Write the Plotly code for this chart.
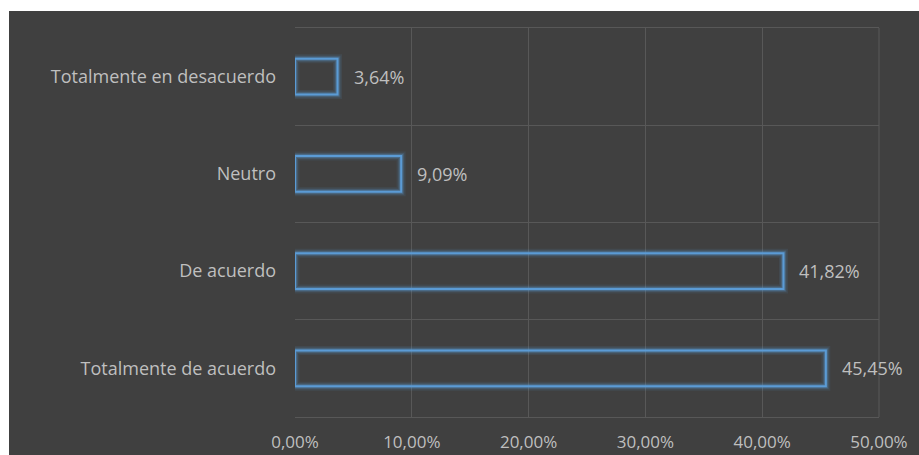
import plotly.graph_objects as go

# Survey responses (share of respondents)
categories = [
    "Totalmente en desacuerdo",
    "Neutro",
    "De acuerdo",
    "Totalmente de acuerdo",
]
shares = [0.0364, 0.0909, 0.4182, 0.4545]
x_ticks = [0.0, 0.1, 0.2, 0.3, 0.4, 0.5]

W, H = 919, 455
PLOT_L, PLOT_R, PLOT_T, PLOT_B = 295, 879, 28, 417
BG_L, BG_T = 9, 11
BG = "#404040"
GRID = "#585858"
BLUE = "91,155,213"
TEXT = "#bfbfbf"
FONT = "Open Sans"
FS = 18

fig = go.Figure()

# glow layers underneath the outlined bar
for lw, alpha in [(9, 0.10), (6, 0.18), (4, 0.30), (2, 1.0)]:
    fig.add_trace(go.Bar(
        x=shares,
        y=categories,
        orientation="h",
        width=0.37,
        marker=dict(color="rgba(0,0,0,0)",
                    line=dict(color=f"rgba({BLUE},{alpha})", width=lw)),
        hoverinfo="skip" if alpha < 1 else None,
        showlegend=False,
    ))

# value labels to the right of each bar
for v, c in zip(shares, categories):
    fig.add_annotation(
        x=v, y=c, text=f"{v*100:.2f}%".replace(".", ","),
        xanchor="left", yanchor="middle", xshift=14, showarrow=False,
        font=dict(family=FONT, size=FS, color=TEXT),
    )

pw, ph = PLOT_R - PLOT_L, PLOT_B - PLOT_T
# dark chart area (white strip along top and left edges)
fig.add_shape(
    type="rect", xref="paper", yref="paper", layer="below",
    x0=(BG_L - PLOT_L) / pw, x1=(W - PLOT_L) / pw + 0.1,
    y0=(PLOT_B - H) / ph - 0.1, y1=(PLOT_B - BG_T) / ph,
    fillcolor=BG, line=dict(width=0),
)
# right edge of the plot area
fig.add_shape(
    type="line", xref="paper", yref="paper", layer="below",
    x0=1, x1=1, y0=0, y1=1, line=dict(color=GRID, width=1),
)

fig.update_layout(
    width=W, height=H,
    margin=dict(l=PLOT_L, r=W - PLOT_R, t=PLOT_T, b=H - PLOT_B, pad=0),
    paper_bgcolor="white",
    plot_bgcolor="rgba(0,0,0,0)",
    barmode="overlay",
    separators=",.",
    font=dict(family=FONT, size=FS, color=TEXT),
    xaxis=dict(
        range=[0, 0.5], tickvals=x_ticks, tickformat=".2%",
        showgrid=True, gridcolor=GRID, gridwidth=1,
        zeroline=False, showline=True, mirror=True,
        linecolor=GRID, linewidth=1, ticks="",
        ticklabelstandoff=10, automargin=False,
        tickfont=dict(family=FONT, size=17, color=TEXT),
    ),
    yaxis=dict(
        type="category", categoryorder="array", categoryarray=categories,
        autorange="reversed", tickson="boundaries",
        showgrid=True, gridcolor=GRID, gridwidth=1,
        zeroline=False, showline=False, ticks="",
        ticklabelstandoff=18, automargin=False,
        tickfont=dict(family=FONT, size=FS, color=TEXT),
    ),
)

fig.write_html("out.html")
